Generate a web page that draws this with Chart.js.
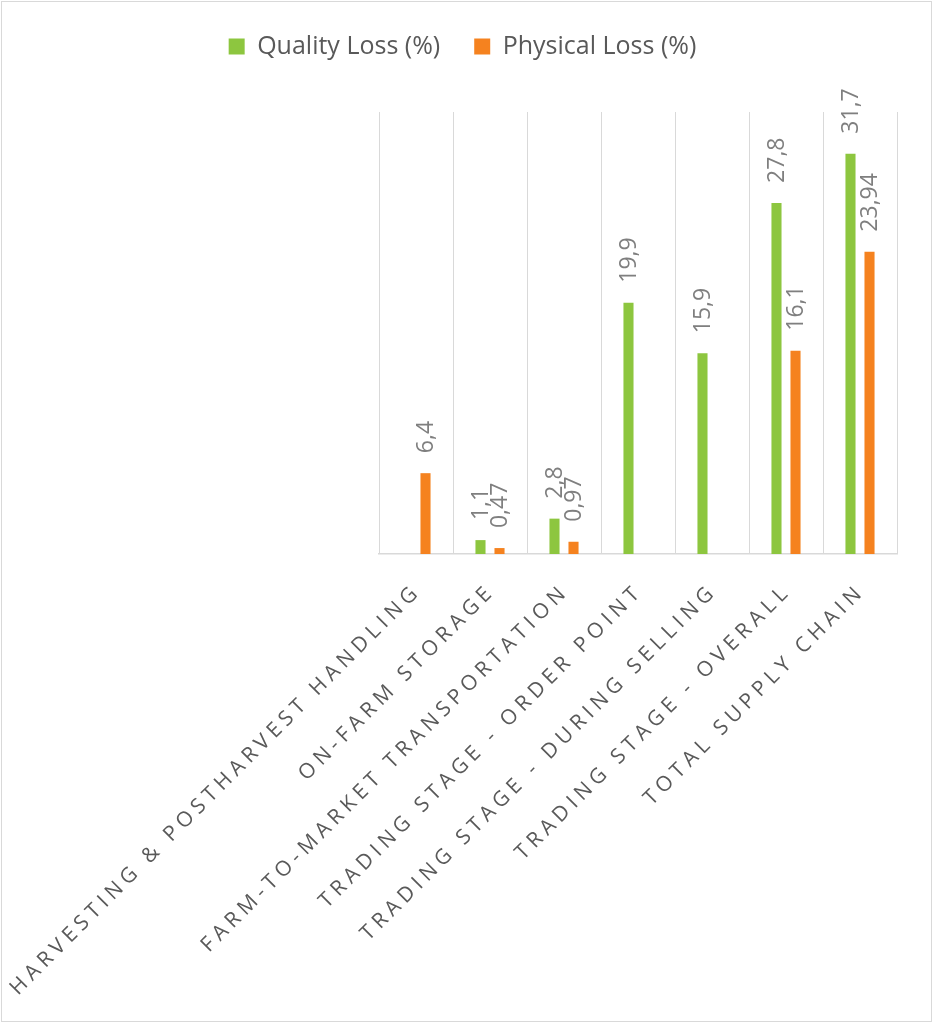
<!DOCTYPE html>
<html>
<head>
<meta charset="utf-8">
<title>Quality and physical loss</title>
<script src="https://cdn.jsdelivr.net/npm/chart.js@4/dist/chart.umd.min.js"></script>
<style>
  html,body{margin:0;padding:0;background:#fff;}
  canvas{display:block;}
</style>
</head>
<body>
<canvas id="chartLoss" width="934" height="1024"></canvas>
<script>
/* ==========================================
   DATA
========================================== */
const stages = [
  "HARVESTING & POSTHARVEST HANDLING",
  "ON-FARM STORAGE",
  "FARM-TO-MARKET TRANSPORTATION",
  "TRADING STAGE - ORDER POINT",
  "TRADING STAGE - DURING SELLING",
  "TRADING STAGE - OVERALL",
  "TOTAL SUPPLY CHAIN"
];

const qualityLoss  = [null, 1.1, 2.8, 19.9, 15.9, 27.8, 31.7];
const physicalLoss = [6.4, 0.47, 0.97, null, null, 16.1, 23.94];

const seriesNames = ["Quality Loss (%)", "Physical Loss (%)"];

/* ==========================================
   PLUGINS
========================================== */
const frameBorder = {
  id:"frameBorder",
  beforeDraw(chart){
    const ctx = chart.ctx;
    ctx.save();
    ctx.strokeStyle = "#d9d9d9";
    ctx.lineWidth = 1;
    ctx.strokeRect(1.5,1.5,chart.width-4,chart.height-4);
    ctx.restore();
  }
};

// rotated value labels above each bar, comma decimals
const valueLabels = {
  id:"valueLabels",
  afterDatasetsDraw(chart){
    const ctx = chart.ctx;
    ctx.save();
    ctx.font = "23px 'Open Sans', sans-serif";
    ctx.fillStyle = "#7f7f7f";
    ctx.textAlign = "left";
    ctx.textBaseline = "middle";
    chart.data.datasets.forEach((ds,di)=>{
      const meta = chart.getDatasetMeta(di);
      meta.data.forEach((bar,i)=>{
        const v = ds.data[i];
        if(v === null || v === undefined) return;
        ctx.save();
        ctx.translate(bar.x, bar.y - 20);
        ctx.rotate(-Math.PI/2);
        ctx.fillText(String(v).replace(".",","),0,1);
        ctx.restore();
      });
    });
    ctx.restore();
  }
};

// spaced uppercase category labels at 45 degrees
const stageLabels = {
  id:"stageLabels",
  afterDraw(chart){
    const ctx = chart.ctx;
    const xs = chart.scales.x;
    const base = chart.chartArea.bottom;
    ctx.save();
    ctx.font = "21px 'Open Sans', sans-serif";
    ctx.fillStyle = "#595959";
    ctx.textAlign = "right";
    ctx.textBaseline = "alphabetic";
    ctx.letterSpacing = "5px";
    chart.data.labels.forEach((lab,i)=>{
      const x = xs.getPixelForTick(i);
      ctx.save();
      ctx.translate(x + 6, base + 38);
      ctx.rotate(-Math.PI/4);
      ctx.fillText(lab,0,0);
      ctx.restore();
    });
    ctx.restore();
  }
};

/* ==========================================
   CHART
========================================== */
function renderLossChart(){

  Chart.defaults.font.family = "'Open Sans', sans-serif";

  new Chart(
    document.getElementById("chartLoss"),
    {
      type:"bar",
      data:{
        labels:stages,
        datasets:[
          {
            label:seriesNames[0],
            data:qualityLoss,
            backgroundColor:"#8dc63f",
            borderWidth:0,
            barPercentage:0.53,
            categoryPercentage:0.514
          },
          {
            label:seriesNames[1],
            data:physicalLoss,
            backgroundColor:"#f5821f",
            borderWidth:0,
            barPercentage:0.53,
            categoryPercentage:0.514
          }
        ]
      },
      options:{
        responsive:false,
        animation:false,
        devicePixelRatio:1,
        layout:{
          padding:{left:0,right:9,top:0,bottom:0}
        },
        plugins:{
          legend:{
            position:"top",
            labels:{
              color:"#595959",
              font:{size:25},
              boxWidth:16,
              boxHeight:16,
              padding:34
            }
          },
          tooltip:{enabled:false}
        },
        scales:{
          x:{
            ticks:{display:false},
            grid:{
              color:"#d9d9d9",
              lineWidth:1,
              offset:true,
              drawTicks:false
            },
            border:{color:"#d9d9d9",width:1.5},
            afterFit(s){ s.height = 470; }
          },
          xTop:{
            position:"top",
            type:"category",
            labels:stages,
            ticks:{display:false},
            grid:{display:false,drawTicks:false},
            border:{display:false},
            afterFit(s){ s.height = 43; }
          },
          y:{
            min:0,
            max:35,
            ticks:{display:false},
            grid:{display:false,drawTicks:false},
            border:{display:false},
            afterFit(s){ s.width = 379; }
          },
          yRight:{
            position:"right",
            min:0,
            max:35,
            ticks:{display:false},
            grid:{display:false,drawTicks:false},
            border:{display:false},
            afterFit(s){ s.width = 28; }
          }
        }
      },
      plugins:[frameBorder,valueLabels,stageLabels]
    }
  );

}

renderLossChart();
</script>
</body>
</html>
